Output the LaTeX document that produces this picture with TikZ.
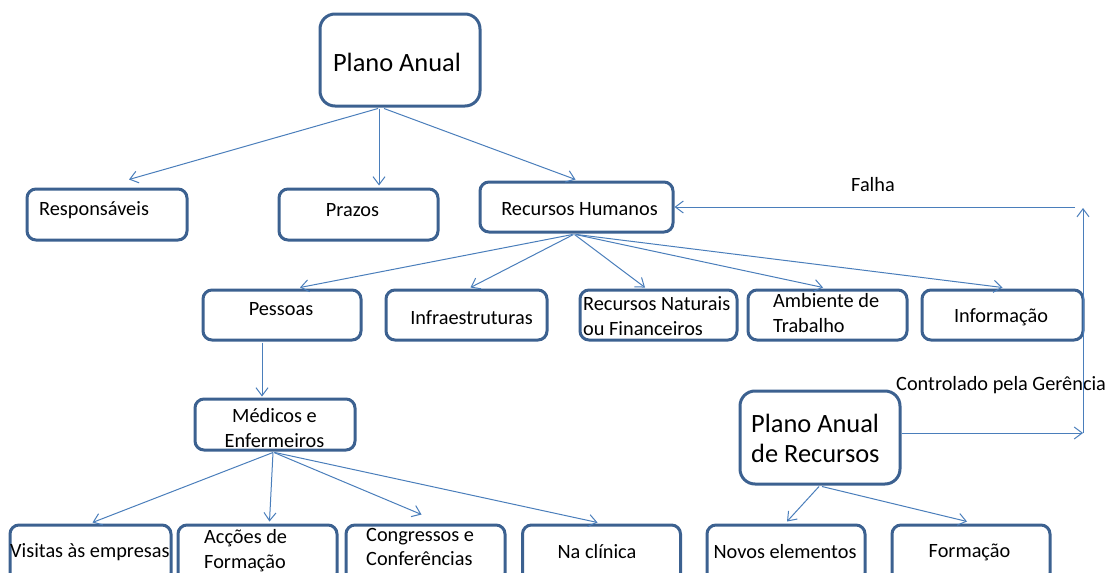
\documentclass[tikz,border=0pt]{standalone}
\usepackage{fontspec}
\setmainfont{Carlito}
\usetikzlibrary{arrows.meta,calc}
\definecolor{boxline}{HTML}{3C6190}
\definecolor{linkblue}{HTML}{4A7EBB}
\tikzset{
  box/.style={draw=boxline, line width=3pt, rounded corners=9pt, inner sep=0pt, fill=white},
  bigbox/.style={box, rounded corners=15pt},
  txt/.style={inner sep=0pt, font=\fontsize{20.3}{24.8}\selectfont},
  bigtxt/.style={inner sep=0pt, font=\fontsize{26.4}{30.5}\selectfont},
  arrowlink/.style={draw=linkblue, line width=1pt, -{Straight Barb[length=8pt,width=12pt]}}
}
\begin{document}
\begin{tikzpicture}[x=1pt,y=-1pt]
\useasboundingbox (0,0) rectangle (1112,573);
\clip (0,0) rectangle (1112,573);

% boxes
\node[bigbox, minimum width=160pt, minimum height=92pt] (pa) at (400,60) {};
\node[box, minimum width=160pt, minimum height=51pt] (resp) at (107,214.5) {};
\node[box, minimum width=159pt, minimum height=51pt] (praz) at (358.5,214.5) {};
\node[box, minimum width=193pt, minimum height=50pt] (rh) at (576.5,207) {};
\node[box, minimum width=158pt, minimum height=50pt] (pes) at (282,315) {};
\node[box, minimum width=161pt, minimum height=50pt] (inf) at (466.5,315) {};
\node[box, minimum width=157pt, minimum height=50pt] (rn) at (658.5,315) {};
\node[box, minimum width=159pt, minimum height=50pt] (amb) at (827.5,315) {};
\node[box, minimum width=161pt, minimum height=50pt] (info) at (1002.5,315) {};
\node[box, minimum width=160pt, minimum height=51pt] (med) at (275,424.5) {};
\node[bigbox, minimum width=160pt, minimum height=93pt] (par) at (820,437.5) {};
\node[box, minimum width=161pt, minimum height=57pt] (vis) at (90.5,553.5) {};
\node[box, minimum width=159pt, minimum height=57pt] (acc) at (257.5,553.5) {};
\node[box, minimum width=159pt, minimum height=57pt] (con) at (425.5,553.5) {};
\node[box, minimum width=158pt, minimum height=57pt] (nac) at (601.5,553.5) {};
\node[box, minimum width=158pt, minimum height=57pt] (nov) at (786,553.5) {};
\node[box, minimum width=158pt, minimum height=57pt] (form) at (971,553.5) {};

% texts
\node[bigtxt] (tpa) at (397,62) {Plano Anual};
\node[txt, anchor=west] (tresp) at (39,210) {Responsáveis};
\node[txt] (tpraz) at (352.5,210) {Prazos};
\node[txt] (trh) at (579.5,209) {Recursos Humanos};
\node[txt] (tpes) at (281,309) {Pessoas};
\node[txt] (tinf) at (471.5,318) {Infraestruturas};
\node[txt, anchor=west, align=left] (trn) at (583,316) {Recursos Naturais\\ou Financeiros};
\node[txt, anchor=west, align=left] (tamb) at (773,313) {Ambiente de\\Trabalho};
\node[txt] (tinfo) at (1001,317) {Informação};
\node[txt, align=center] (tmed) at (274.5,428) {Médicos e\\Enfermeiros};
\node[bigtxt, anchor=west, align=left] (tpar) at (751,438.5) {Plano Anual\\de Recursos};
\node[txt, anchor=west] (tvis) at (10,552) {Visitas às empresas};
\node[txt, anchor=west, align=left] (tacc) at (204,551) {Acções de\\Formação};
\node[txt, anchor=west, align=left] (tcon) at (366,547) {Congressos e\\Conferências};
\node[txt] (tnac) at (597,552) {Na clínica};
\node[txt] (tnov) at (785,552) {Novos elementos};
\node[txt] (tform) at (969.5,552) {Formação};
\node[txt] (falha) at (873,185) {Falha};
\node[txt, anchor=west] (ctrl) at (896,385) {Controlado pela Gerência};

% loop points on the right
\coordinate (cr) at (1083,433);
\coordinate (ct) at (1083,208);
\coordinate (ctl) at (1075,207);

% connectors
\draw[arrowlink] ($(pa.south)+(-22,1)$) -- ($(resp.north)+(22,-8)$);
\draw[arrowlink] ($(pa.south)+(-21,1)$) -- ($(praz.north)+(20.5,-2)$);
\draw[arrowlink] ($(pa.south)+(-16,1)$) -- ($(rh.north)+(-1,-1)$);

\draw[arrowlink] ($(rh.south)+(-4,1)$) -- ($(pes.north)+(18,-1)$);
\draw[arrowlink] ($(rh.south)+(-3,1)$) -- ($(inf.north)+(4,-1)$);
\draw[arrowlink] ($(rh.south)+(-2,1)$) -- ($(rn.north)+(-13.5,-1)$);
\draw[arrowlink] ($(rh.south)+(-1,1)$) -- ($(amb.north)+(-4.5,-1)$);
\draw[arrowlink] ($(rh.south)+(0,1)$) -- ($(info.north)+(0,-1)$);

\draw[arrowlink] ($(pes.south)+(-20,1)$) -- ($(med.north)+(-13,-1)$);

\draw[arrowlink] ($(med.south)+(-2,1)$) -- ($(vis.north)+(2,-1)$);
\draw[arrowlink] ($(med.south)+(-2,1)$) -- ($(acc.north)+(12,-2)$);
\draw[arrowlink] ($(med.south)+(-1,1)$) -- ($(con.north)+(-4,-9)$);
\draw[arrowlink] ($(med.south)+(0,1)$) -- ($(nac.north)+(-4,-1)$);

\draw[arrowlink] ($(par.south)+(-1,1)$) -- ($(nov.north)+(1,-2)$);
\draw[arrowlink] ($(par.south)+(2,1)$) -- ($(form.north)+(-4,-2)$);

\draw[arrowlink] ($(par.east)+(0,-4.5)$) -- (cr);
\draw[arrowlink] (cr) -- (ct);
\draw[arrowlink] (ctl) -- (rh.east);
\end{tikzpicture}
\end{document}
